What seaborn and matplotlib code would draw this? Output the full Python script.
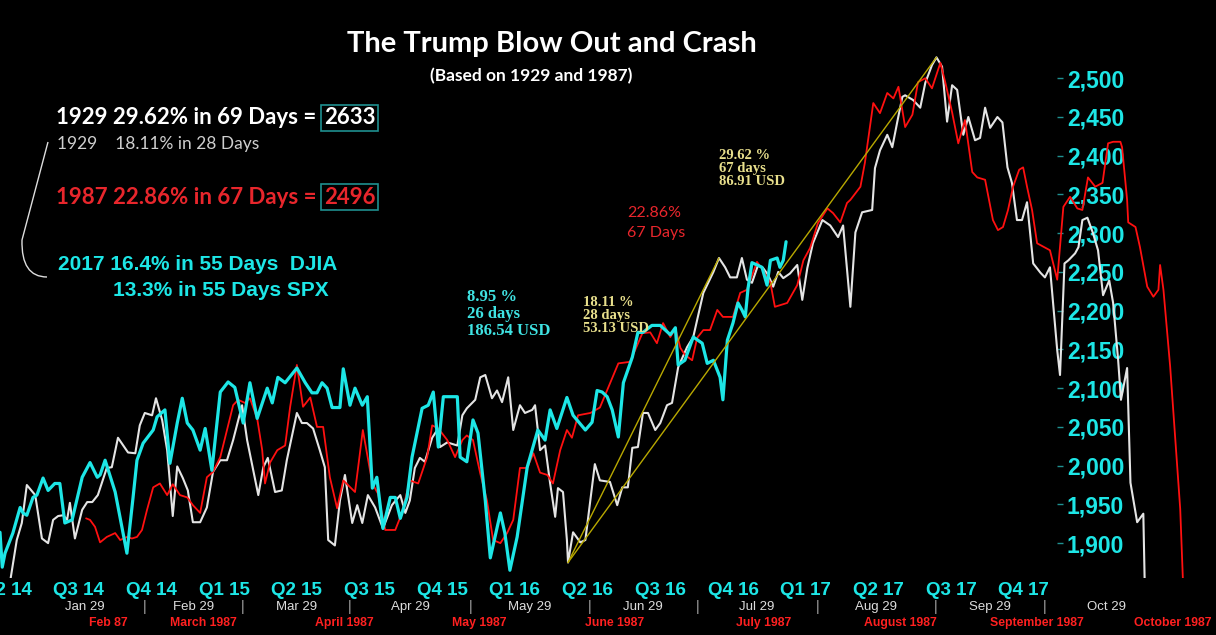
import matplotlib
matplotlib.use("Agg")
import matplotlib.pyplot as plt
import seaborn as sns
from matplotlib import font_manager
from matplotlib.path import Path
from matplotlib.patches import PathPatch

# ---- data (x = weeks along the shared axis, y = index level on the right scale) ----
spx_x = [0.0, 0.4, 0.9, 2.3, 3.6, 4.1, 4.8, 5.9, 6.6, 7.7, 8.6, 9.8, 10.7, 11.6, 12.9, 14.7, 16.1,
         17.4, 17.9, 18.8, 20.6, 22.7, 23.8, 24.5, 25.6, 27.4, 28.1, 29.5, 30.4, 31.7, 32.6, 33.5,
         34.5, 35.8, 36.7, 37.9, 39.4, 40.8, 42.0, 43.5, 44.7, 46.0, 47.8, 48.7, 49.7, 51.0, 53.1,
         54.6, 55.8, 56.7, 57.6, 58.5, 59.4, 60.8, 61.4, 62.6, 63.5, 64.8, 65.7, 66.6, 67.4, 68.5,
         69.8, 70.7, 71.6, 72.8, 73.7, 75.5, 76.6, 77.5, 78.4, 79.3, 81.8, 82.3, 83.5, 84.6, 85.5,
         86.8, 87.7, 89.5, 90.3, 91.2, 92.5, 94.3, 96.2, 97.5, 98.4, 99.6, 101.4, 102.5, 104.7,
         105.9, 106.8, 107.7, 108.6, 109.5, 110.6, 111.5, 113.1, 114.1, 115.0, 116.6, 118.1, 119.9,
         120.8, 121.3, 122.5, 124.0, 125.6, 126.5, 127.6, 128.8, 129.3, 130.1, 131.1, 132.0, 132.7,
         133.3, 133.8, 134.5, 135.4, 136.3, 137.2, 137.8, 139.0, 139.5, 140.1, 140.6]
spx_y = [1914, 1869, 1887, 1913, 1946, 1939, 1936, 1959, 1962, 1984, 1968, 1977, 1977, 1926, 1930,
         1985, 2004, 1985, 1988, 2007, 1966, 1887, 1959, 2007, 2029, 2046, 2063, 2072, 2003, 2055,
         2087, 2055, 2046, 2020, 2048, 1994, 2095, 2108, 2101, 2055, 2107, 2061, 2100, 2081, 2114,
         2107, 2126, 2107, 2094, 2094, 2107, 2100, 2075, 2075, 2125, 2078, 2100, 2078, 2089, 1971,
         1985, 1919, 1959, 1959, 1932, 1959, 2011, 2074, 2078, 2095, 2024, 2089, 2089, 2011, 2005,
         2059, 2042, 1955, 1881, 1939, 1913, 1865, 1908, 1998, 2046, 2033, 2072, 2048, 2088, 2065,
         2046, 2056, 2097, 2095, 2089, 2072, 2037, 2107, 2140, 2172, 2172, 2181, 2181, 2169, 2178,
         2130, 2136, 2166, 2158, 2132, 2136, 2114, 2085, 2162, 2184, 2210, 2201, 2192, 2229, 2262,
         2259, 2256, 2233, 2265, 2268, 2256, 2265, 2289]

dow1929_x = [1.8, 3.0, 3.9, 4.8, 6.3, 7.5, 8.6, 9.5, 10.4, 11.3, 12.0, 12.5, 13.4, 14.7, 15.6, 16.5,
             17.5, 19.1, 20.0, 21.1, 22.9, 24.2, 25.0, 25.9, 27.2, 27.9, 29.0, 29.9, 30.9, 31.7, 32.7,
             33.6, 34.5, 35.8, 37.0, 38.1, 39.4, 40.6, 41.7, 43.3, 44.2, 46.2, 47.1, 47.9, 49.2, 50.4,
             51.3, 53.1, 54.0, 54.9, 56.0, 57.2, 58.1, 58.7, 59.9, 60.8, 61.7, 63.0, 63.9, 64.8, 65.8,
             67.1, 68.5, 70.1, 71.0, 71.6, 72.5, 73.3, 74.2, 75.1, 76.0, 77.3, 78.2, 78.7, 80.0, 81.8,
             82.7, 83.5, 85.0, 85.9, 86.8, 88.0, 88.9, 89.8, 90.9, 91.8, 93.0, 93.9, 95.2, 95.7, 96.6,
             97.5, 98.4, 99.3, 99.8, 100.7, 101.4, 101.6, 102.5, 103.8, 104.7, 106.4, 107.3, 109.1,
             110.4, 111.3, 112.3, 113.1, 114.1, 115.0, 115.9, 117.2, 118.1, 119.3, 120.2, 121.3,
             122.9, 124.0, 125.8, 127.6, 128.6, 129.7, 130.6, 131.8, 132.7, 133.6, 134.5, 135.6,
             136.5, 137.4, 138.3, 139.2, 140.1, 141.3, 142.6, 143.5, 144.4, 145.4, 147.1, 148.5,
             149.9, 150.8, 152.1, 153.0, 154.2, 156.0, 156.5, 157.4, 158.7, 159.6, 160.5, 161.4,
             161.9, 163.3, 164.6, 165.5, 166.7, 167.5, 168.5, 169.4, 170.3, 171.2, 172.3, 173.2,
             174.4, 175.3, 176.2, 177.1, 178.4, 179.3, 180.2, 181.0, 181.9, 182.8, 183.7, 184.8,
             186.1, 186.9, 187.8, 189.1, 189.6, 190.4, 191.1, 192.3, 192.9, 193.6, 194.5, 195.5,
             196.4, 197.3, 198.4, 199.1, 200.0, 200.5, 201.6, 202.2, 203.4, 204.5, 204.8]
dow1929_y = [1850, 1904, 1926, 1975, 1962, 1906, 1900, 1930, 1935, 1936, 1930, 1952, 1906, 1943,
             1953, 1953, 1962, 1997, 1998, 2036, 2017, 2016, 2052, 2068, 2065, 2087, 2059, 2020,
             1935, 1999, 1984, 1968, 1927, 1927, 1946, 1992, 2007, 2007, 2033, 2078, 2033, 1962,
             1998, 2010, 1966, 1968, 2007, 2068, 2055, 2055, 2048, 2020, 1998, 1904, 1897, 1955,
             1988, 1926, 1949, 1926, 1962, 1946, 1919, 1949, 1957, 1962, 1939, 1955, 1997, 2010,
             2005, 2036, 2046, 2024, 2030, 2026, 2065, 2074, 2085, 2114, 2117, 2087, 2097, 2082,
             2114, 2046, 2078, 2068, 2072, 2078, 2020, 2026, 1977, 1934, 1971, 1966, 1904, 1875,
             1914, 1901, 1904, 2002, 1981, 1979, 1949, 1972, 1972, 2023, 2024, 2068, 2068, 2046,
             2055, 2078, 2081, 2127, 2153, 2166, 2223, 2250, 2268, 2256, 2243, 2243, 2268, 2240,
             2236, 2259, 2255, 2246, 2231, 2250, 2242, 2248, 2259, 2214, 2255, 2287, 2317, 2310,
             2295, 2310, 2205, 2301, 2327, 2330, 2384, 2407, 2427, 2411, 2444, 2476, 2478, 2472,
             2462, 2494, 2517, 2527, 2515, 2444, 2491, 2485, 2427, 2450, 2420, 2423, 2462, 2436,
             2450, 2443, 2385, 2365, 2317, 2317, 2340, 2261, 2249, 2243, 2256, 2149, 2117, 2261,
             2265, 2274, 2282, 2317, 2320, 2300, 2278, 2220, 2239, 2210, 2136, 2085, 2126, 1978,
             1927, 1938, 1830]

dow1987_x = [15.4, 16.1, 17.0, 17.9, 19.1, 20.6, 21.5, 22.7, 23.6, 24.5, 25.4, 26.3, 27.4, 28.6,
             29.9, 30.9, 32.2, 33.5, 34.5, 35.8, 37.0, 38.1, 39.4, 40.6, 41.7, 42.6, 43.8, 44.7,
             46.0, 46.9, 47.4, 48.3, 49.6, 51.0, 51.9, 53.1, 54.2, 55.5, 56.7, 57.8, 59.0, 60.3,
             61.4, 63.5, 64.9, 66.6, 67.6, 68.9, 70.7, 71.9, 73.3, 74.8, 76.4, 77.3, 78.4, 80.0,
             81.4, 82.7, 83.5, 84.6, 85.9, 87.1, 88.2, 89.5, 90.7, 91.8, 93.0, 94.3, 95.4, 96.6,
             97.9, 98.9, 100.2, 101.4, 102.3, 103.4, 105.6, 107.3, 108.8, 110.6, 112.7, 114.9,
             116.3, 117.5, 118.6, 119.9, 120.8, 121.7, 122.5, 123.8, 124.7, 125.8, 127.0, 128.3,
             129.3, 131.1, 132.4, 133.6, 135.4, 136.5, 137.8, 138.6, 140.8, 142.6, 143.7, 144.9,
             146.3, 148.0, 149.0, 150.3, 151.5, 152.1, 153.9, 154.7, 156.2, 157.4, 158.7, 159.8,
             160.7, 161.9, 163.2, 164.2, 165.5, 166.7, 168.2, 169.1, 170.3, 171.4, 172.6, 173.9,
             174.8, 176.2, 176.8, 177.6, 178.5, 179.4, 180.3, 181.2, 182.3, 183.0, 183.7, 184.6,
             185.5, 187.8, 189.1, 189.6, 190.2, 191.4, 192.7, 193.6, 194.6, 195.9, 197.2, 198.2,
             199.1, 200.4, 200.7, 201.6, 201.8, 203.1, 203.9, 205.2, 206.3, 207.2, 207.5, 208.1,
             209.3, 211.1, 211.7]
dow1987_y = [1932, 1930, 1921, 1901, 1908, 1913, 1904, 1908, 1906, 1908, 1917, 1943, 1972, 1977,
             1962, 1976, 1962, 1959, 1949, 1939, 1985, 1992, 2011, 2046, 2078, 2085, 2081, 2087,
             2061, 2020, 1977, 2004, 2020, 2026, 2076, 2130, 2076, 2088, 2050, 2050, 1985, 1945,
             1981, 1966, 2046, 1977, 1964, 1917, 1917, 1939, 1981, 1977, 2011, 2052, 2048, 2033,
             2011, 2033, 2039, 2033, 1990, 1955, 1904, 1900, 1913, 1930, 1997, 1997, 2016, 1991,
             1988, 1977, 2020, 2046, 2036, 2065, 2068, 2075, 2101, 2132, 2134, 2171, 2172, 2158,
             2184, 2166, 2177, 2152, 2143, 2136, 2165, 2175, 2175, 2201, 2192, 2192, 2223, 2227,
             2263, 2252, 2236, 2205, 2210, 2233, 2265, 2281, 2313, 2332, 2326, 2314, 2339, 2343,
             2360, 2391, 2468, 2455, 2481, 2474, 2489, 2437, 2453, 2495, 2500, 2487, 2520, 2494,
             2456, 2416, 2446, 2379, 2372, 2369, 2347, 2317, 2304, 2308, 2330, 2360, 2382, 2385,
             2360, 2330, 2287, 2278, 2240, 2282, 2334, 2347, 2332, 2330, 2372, 2360, 2365, 2416,
             2418, 2418, 2411, 2343, 2314, 2308, 2282, 2231, 2218, 2227, 2259, 2227, 2128, 1944,
             1830]

quarter_labels = ["Q2 14", "Q3 14", "Q4 14", "Q1 15", "Q2 15", "Q3 15", "Q4 15", "Q1 16",
                  "Q2 16", "Q3 16", "Q4 16", "Q1 17", "Q2 17", "Q3 17", "Q4 17"]
months_1929 = ["Jan 29", "Feb 29", "Mar 29", "Apr 29", "May 29", "Jun 29", "Jul 29", "Aug 29",
               "Sep 29", "Oct 29"]
months_1929_x = [15.2, 34.7, 53.0, 73.4, 94.8, 115.0, 135.4, 156.7, 177.1, 197.9]
month_breaks_x = [25.9, 43.3, 62.6, 84.1, 105.4, 124.7, 146.2, 167.4, 186.8]
months_1987 = ["Feb 87", "March 1987", "April 1987", "May 1987", "June 1987", "July 1987",
               "August 1987", "September 1987", "October 1987"]
months_1987_x = [19.3, 36.3, 61.5, 85.7, 110.0, 136.5, 161.0, 185.5, 209.8]
y_ticks = list(range(1900, 2501, 50))

# ---- style ----
CYAN = "#1de6e6"
RED = "#ff1010"
WHITE = "#e4e4e4"
YEL = "#b8a800"
TXT_YEL = "#e8df8c"
TXT_RED = "#e8262c"
BOXC = "#1f9090"

sns.set_theme(style="dark", rc={"axes.facecolor": "black", "figure.facecolor": "black"})
installed = {f.name for f in font_manager.fontManager.ttflist}
NARROW = "Liberation Sans Narrow" if "Liberation Sans Narrow" in installed else "Liberation Sans"
plt.rcParams["font.family"] = ["Lato", "DejaVu Sans"]

fig = plt.figure(figsize=(12.16, 6.35), dpi=100)
ax = fig.add_axes([0, 57 / 635, 1, 578 / 635])
ax.set_facecolor("black")

sns.lineplot(x=dow1929_x, y=dow1929_y, ax=ax, color=WHITE, linewidth=1.5, estimator=None, sort=False)
sns.lineplot(x=dow1987_x, y=dow1987_y, ax=ax, color=RED, linewidth=1.3, estimator=None, sort=False)
sns.lineplot(x=spx_x, y=spx_y, ax=ax, color=CYAN, linewidth=2.3, estimator=None, sort=False)

# trend lines from the 1929 low
i0 = dow1929_x.index(101.6)
for xe in (128.6, 167.5):
    i1 = dow1929_x.index(xe)
    ax.plot([dow1929_x[i0], dow1929_x[i1]], [dow1929_y[i0], dow1929_y[i1]], color=YEL, lw=1.0, zorder=4)

ax.set_xlim(0, 217.5)
ax.set_ylim(1855, 2601)

# right value axis sitting inside the plot
for s in ["top", "left", "bottom"]:
    ax.spines[s].set_visible(False)
ax.spines["right"].set_position(("data", 189.1))
ax.spines["right"].set_color("none")
ax.yaxis.tick_right()
ax.set_yticks(y_ticks)
ax.set_yticklabels([f"{v:,}" for v in y_ticks])
ax.tick_params(axis="y", right=True, left=False, length=4, width=1, color=BOXC,
               labelcolor=CYAN, labelsize=16.5, pad=3)
for lbl in ax.get_yticklabels():
    lbl.set_fontfamily(NARROW)
    lbl.set_fontweight("bold")
ax.set_axisbelow(True)
ax.set_ylabel("")
ax.set_xlabel("")
ax.grid(False)

# quarter labels on the x axis
q_pos = [1.1 + 13 * i for i in range(len(quarter_labels))]
ax.set_xticks(q_pos)
ax.set_xticklabels(quarter_labels)
ax.tick_params(axis="x", bottom=False, length=0, labelcolor=CYAN, labelsize=13.5, pad=3)
for lbl in ax.get_xticklabels():
    lbl.set_fontfamily(NARROW)
    lbl.set_fontweight("bold")

tr = ax.get_xaxis_transform()
for m, xm in zip(months_1929, months_1929_x):
    ax.text(xm, -0.051, m, transform=tr, color="#dddddd", fontsize=9.5, family=NARROW,
            ha="center", va="center", clip_on=False)
for xb in month_breaks_x:
    ax.text(xb, -0.051, "|", transform=tr, color="#aaaaaa", fontsize=10, family=NARROW,
            ha="center", va="center", clip_on=False)
for m, xm in zip(months_1987, months_1987_x):
    ax.text(xm, -0.078, m, transform=tr, color="#ff2020", fontsize=8.8, family=NARROW,
            fontweight="bold", ha="center", va="center", clip_on=False)

# ---- titles and notes (figure pixel positions) ----
def fx(px):
    return px / 1216

def fy(py):
    return 1 - py / 635

fig.text(fx(552), fy(44), "The Trump Blow Out and Crash", color="white", fontsize=21,
         fontweight="bold", ha="center", va="center")
fig.text(fx(531), fy(76), "(Based on 1929 and 1987)", color="white", fontsize=12.5,
         fontweight="bold", ha="center", va="center")

fig.text(fx(56), fy(118), "1929 29.62% in 69 Days =", color="white", fontsize=16,
         fontweight="bold", ha="left", va="center")
fig.text(fx(324), fy(118), "2633", color="white", fontsize=16, fontweight="bold",
         ha="left", va="center",
         bbox=dict(boxstyle="square,pad=0.12", fc="none", ec=BOXC, lw=1.2))
fig.text(fx(57), fy(144), "1929    18.11% in 28 Days", color="#cfcfcf", fontsize=12.5,
         ha="left", va="center")
fig.text(fx(56), fy(197), "1987 22.86% in 67 Days =", color=TXT_RED, fontsize=16,
         fontweight="bold", ha="left", va="center")
fig.text(fx(324), fy(197), "2496", color=TXT_RED, fontsize=16, fontweight="bold",
         ha="left", va="center",
         bbox=dict(boxstyle="square,pad=0.12", fc="none", ec=BOXC, lw=1.2))
fig.text(fx(58), fy(265), "2017 16.4% in 55 Days  DJIA", color=CYAN, fontsize=15,
         family="Liberation Sans", fontweight="bold", ha="left", va="center")
fig.text(fx(113), fy(291), "13.3% in 55 Days SPX", color=CYAN, fontsize=15,
         family="Liberation Sans", fontweight="bold", ha="left", va="center")

# bracket on the left
verts = [(fx(48), fy(142)), (fx(22), fy(240)), (fx(21), fy(277)), (fx(47), fy(277))]
codes = [Path.MOVETO, Path.LINETO, Path.CURVE3, Path.CURVE3]
fig.patches.append(PathPatch(Path(verts, codes), transform=fig.transFigure, fc="none",
                             ec="#dddddd", lw=1.0))

fig.text(fx(467), fy(314), "8.95 %\n26 days\n186.54 USD", color="#3fe3e3", fontsize=12,
         family="Liberation Serif", fontweight="bold", ha="left", va="center", linespacing=1.05)
fig.text(fx(583), fy(315), "18.11 %\n28 days\n53.13 USD", color=TXT_YEL, fontsize=10.5,
         family="Liberation Serif", fontweight="bold", ha="left", va="center", linespacing=1.0)
fig.text(fx(719), fy(169), "29.62 %\n67 days\n86.91 USD", color=TXT_YEL, fontsize=10.5,
         family="Liberation Serif", fontweight="bold", ha="left", va="center", linespacing=1.0)
fig.text(fx(627), fy(223), "22.86%\n67 Days", color=TXT_RED, fontsize=11.5,
         ha="left", va="center", linespacing=1.55)

fig.savefig("out.png", dpi=100, facecolor="black")
